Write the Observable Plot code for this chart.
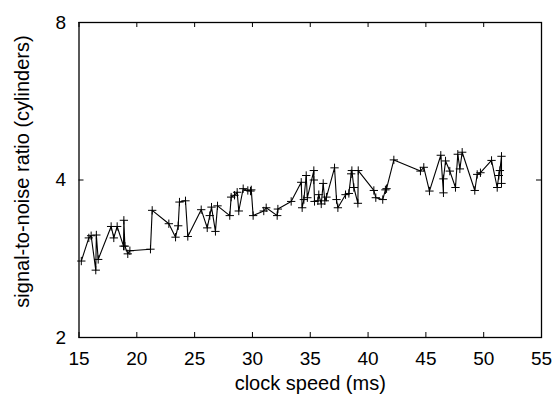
<!DOCTYPE html>
<html>
<head>
<meta charset="utf-8">
<script src="https://cdn.jsdelivr.net/npm/d3@7"></script>
<script src="https://cdn.jsdelivr.net/npm/@observablehq/plot@0.6"></script>
<style>
  html, body { margin: 0; padding: 0; background: #fff; }
  #chart svg { display: block; }
</style>
</head>
<body>
<div id="chart"></div>
<script>
const clockSpeed = [15.2, 15.85, 16.05, 16.45, 16.5, 16.66, 17.78, 18.01, 18.3, 18.85, 18.88, 18.97, 19.22, 19.4,
  21.18, 21.33, 22.77, 23.35, 23.58, 23.69, 24.21, 24.41, 25.57, 26.09, 26.31, 26.46, 26.8, 26.98,
  28.04, 28.16, 28.45, 28.68, 28.82, 29.2, 29.6, 29.83, 29.9, 30.06, 30.98, 31.19, 32.14, 32.2, 33.35,
  34.22, 34.3, 34.45, 34.65, 34.75, 35.31, 35.31, 35.37, 35.66, 35.74, 35.95, 36.12, 36.26, 36.4,
  37.1, 37.27, 37.39, 38.05, 38.34, 38.54, 38.6, 38.77, 39.12, 39.15, 40.5, 40.67, 41.27, 41.5, 41.6,
  42.23, 44.53, 44.82, 45.31, 46.29, 46.52, 46.52, 46.7, 47.07, 47.56, 47.76, 47.94, 48.14,
  49.23, 49.44, 49.72, 50.68, 51.17, 51.31, 51.4, 51.54, 51.54];
const snr = [2.80, 3.10, 3.13, 2.69, 3.14, 2.82, 3.26, 3.10, 3.26, 2.99, 3.35, 2.99, 2.89, 2.93,
  2.95, 3.50, 3.30, 3.11, 3.27, 3.63, 3.65, 3.12, 3.51, 3.24, 3.42, 3.55, 3.19, 3.57,
  3.42, 3.71, 3.74, 3.79, 3.49, 3.85, 3.82, 3.81, 3.83, 3.42, 3.49, 3.54, 3.42, 3.52, 3.64,
  3.96, 3.54, 3.67, 4.08, 3.70, 4.17, 4.00, 3.64, 3.65, 3.75, 3.60, 3.94, 3.65, 3.71,
  4.22, 3.67, 3.54, 3.75, 3.77, 4.11, 4.17, 3.87, 3.61, 4.17, 3.82, 3.70, 3.67, 3.83, 3.85,
  4.37, 4.16, 4.23, 3.81, 4.46, 3.78, 4.02, 4.35, 4.16, 3.87, 4.48, 4.20, 4.52,
  3.82, 4.10, 4.13, 4.36, 3.87, 4.08, 4.17, 4.44, 3.94];
const xTicks = [15, 20, 25, 30, 35, 40, 45, 50, 55];
const yTicks = [2, 4, 8];

const data = clockSpeed.map((x, i) => ({x, y: snr[i]}));

const W = 556, H = 400;
const mL = 78.5, mR = 15, mT = 22, mB = 63;
const innerH = H - mT - mB, innerW = W - mL - mR;
const tick = 5;

const chart = Plot.plot({
  width: W,
  height: H,
  marginLeft: mL,
  marginRight: mR,
  marginTop: mT,
  marginBottom: mB,
  style: {fontFamily: "'Liberation Sans', Arial, Helvetica, sans-serif", fontSize: "19px", color: "#000", background: "#fff"},
  x: {domain: [15, 55]},
  y: {type: "log", base: 2, domain: [2, 8]},
  marks: [
    Plot.axisX(xTicks, {tickSize: 0, tickPadding: 14, fontSize: 19, label: null}),
    Plot.axisY(yTicks, {tickSize: 0, tickPadding: 13, fontSize: 19, label: null, tickFormat: d => String(d)}),
    Plot.ruleX(xTicks, {x: d => d, insetTop: innerH - tick, stroke: "#000"}),
    Plot.ruleX(xTicks, {x: d => d, insetBottom: innerH - tick, stroke: "#000"}),
    Plot.ruleY(yTicks, {y: d => d, insetRight: innerW - tick, stroke: "#000"}),
    Plot.ruleY(yTicks, {y: d => d, insetLeft: innerW - tick, stroke: "#000"}),
    Plot.line(data, {x: "x", y: "y", stroke: "#000", strokeWidth: 1.1}),
    Plot.dot(data, {x: "x", y: "y", symbol: "plus", r: 2.8, stroke: "#000", strokeWidth: 1}),
    Plot.frame({stroke: "#000", strokeWidth: 1.3}),
    Plot.text(["clock speed (ms)"], {frameAnchor: "bottom", dy: 52, fontSize: 20}),
    Plot.text(["signal-to-noise ratio (cylinders)"], {frameAnchor: "left", dx: -56.5, dy: -8.5, rotate: -90, textAnchor: "middle", fontSize: 20})
  ]
});
document.getElementById("chart").appendChild(chart);
</script>
</body>
</html>
